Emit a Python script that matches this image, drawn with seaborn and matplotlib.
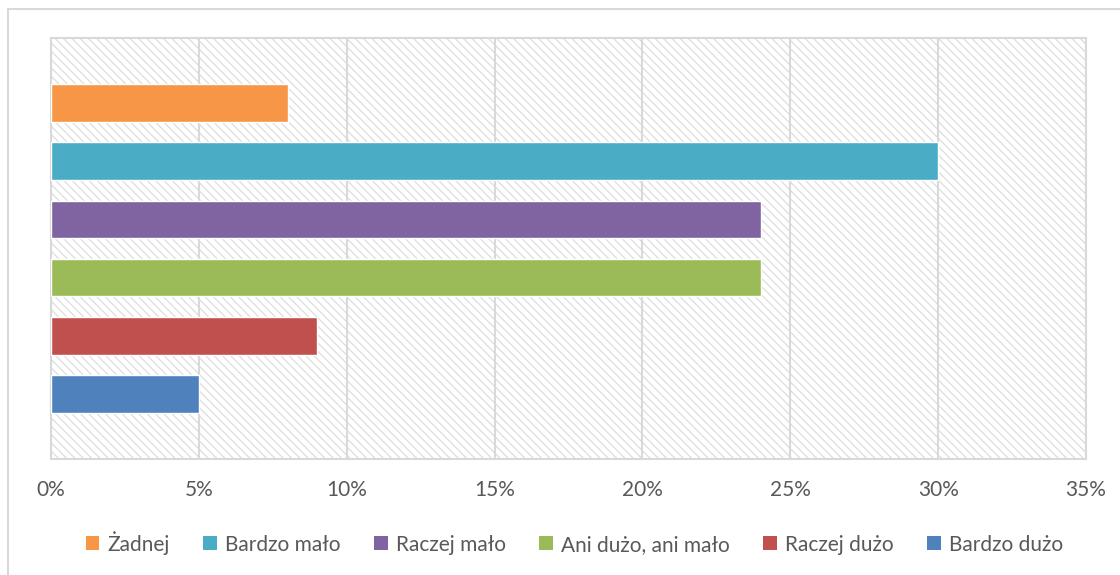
import pandas as pd
import numpy as np
import matplotlib
matplotlib.use("Agg")
import matplotlib.pyplot as plt
import matplotlib.patches as mpatches
import seaborn as sns
from matplotlib.ticker import FuncFormatter

# dane
kategorie = ["Żadnej", "Bardzo mało", "Raczej mało", "Ani dużo, ani mało", "Raczej dużo", "Bardzo dużo"]
wartosci = [8, 30, 24, 24, 9, 5]
kolory = ["#F79646", "#4BACC6", "#8064A2", "#9BBB59", "#C0504D", "#4F81BD"]

sns.set_theme(style="white")
plt.rcParams['font.family'] = ['Lato', 'DejaVu Sans']
plt.rcParams['hatch.color'] = '#DDDDDD'
plt.rcParams['hatch.linewidth'] = 0.9

df = pd.DataFrame({"kategoria": kategorie, "procent": wartosci})

fig = plt.figure(figsize=(11.2, 5.75), dpi=100)
ax = fig.add_axes([51 / 1120, 1 - 459 / 575, (1086 - 51) / 1120, (459 - 38) / 575])

# obramowanie całego wykresu
fig.patches.append(mpatches.Rectangle((8 / 1120, -0.01), 1.0, 1 - 9 / 575 + 0.01,
                                      transform=fig.transFigure, fill=False,
                                      edgecolor="#D9D9D9", linewidth=1.5))

# tło z kreskowaniem
ax.add_patch(mpatches.Rectangle((0, 0), 1, 1, transform=ax.transAxes, facecolor="white",
                                edgecolor="#DDDDDD", hatch="\\\\\\\\", linewidth=0, zorder=0))

sns.barplot(data=df, x="procent", y="kategoria", hue="kategoria", order=kategorie,
            hue_order=kategorie, palette=kolory, dodge=False, width=0.65,
            saturation=1, legend=False, ax=ax, zorder=3)

ax.set_xlim(0, 35)
ax.set_ylim(5 + 1.12, -1.12)
ax.set_xticks(np.arange(0, 36, 5))
ax.xaxis.set_major_formatter(FuncFormatter(lambda v, p: f"{int(v)}%"))
ax.tick_params(axis="x", labelsize=15, colors="#595959", length=0, pad=15)
ax.set_yticks([])
ax.set_xlabel("")
ax.set_ylabel("")
ax.grid(axis="x", color="#D9D9D9", linewidth=1.5, zorder=1)
ax.set_axisbelow(True)
for s in ax.spines.values():
    s.set_color("#D9D9D9")
    s.set_linewidth(1.5)

uchwyty = [mpatches.Patch(facecolor=c, edgecolor="none", label=k) for k, c in zip(kategorie, kolory)]
leg = fig.legend(handles=uchwyty, loc="center", bbox_to_anchor=(0.513, 0.056), ncol=6,
                 frameon=False, fontsize=15, handlelength=0.65, handleheight=0.65,
                 handletextpad=0.4, columnspacing=1.6)
for t in leg.get_texts():
    t.set_color("#595959")

fig.savefig("out.png", dpi=100)
